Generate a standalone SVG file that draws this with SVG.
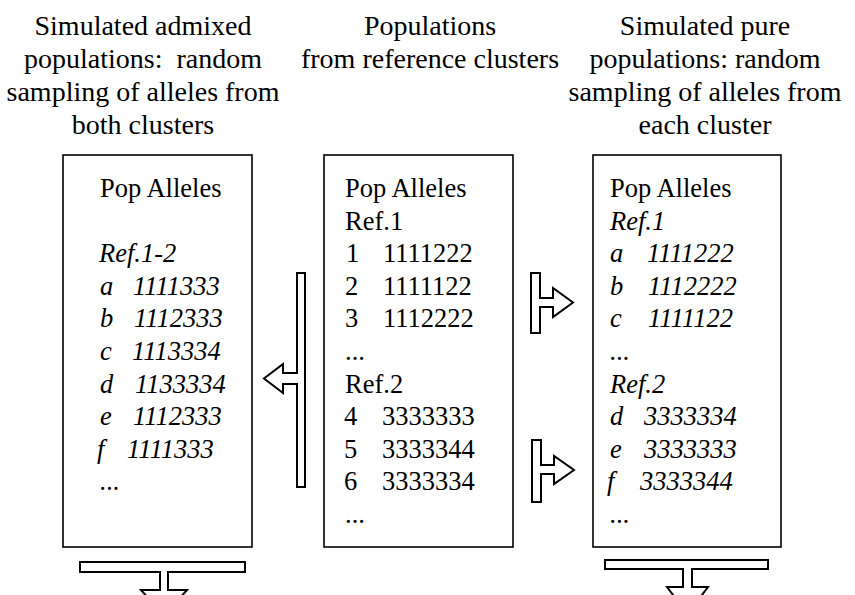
<svg xmlns="http://www.w3.org/2000/svg" width="855" height="595" viewBox="0 0 855 595">
<style>
.hd{font-family:"Liberation Serif","Times New Roman",serif;font-size:28px;fill:#000;text-anchor:middle}
.t{font-family:"Liberation Serif","Times New Roman",serif;font-size:26.5px;fill:#000}
.i{font-style:italic}
.box{fill:#fff;stroke:#000;stroke-width:1.6}
.arr{fill:#fff;stroke:#000;stroke-width:2;stroke-linejoin:miter}
</style>
<rect width="855" height="595" fill="#fff"/>
<g id="headers">
<text class="hd" x="143" y="35">Simulated admixed</text>
<text class="hd" x="143" y="68">populations:&#160; random</text>
<text class="hd" x="143" y="101">sampling of alleles from</text>
<text class="hd" x="143" y="134">both clusters</text>
<text class="hd" x="430" y="35">Populations</text>
<text class="hd" x="430" y="68">from reference clusters</text>
<text class="hd" x="705" y="35">Simulated pure</text>
<text class="hd" x="705" y="68">populations: random</text>
<text class="hd" x="705" y="101">sampling of alleles from</text>
<text class="hd" x="705" y="134">each cluster</text>
</g>
<g id="node-admixed">
<rect class="box" x="63" y="155" width="189" height="392"/>
<text class="t" x="100" y="197">Pop Alleles</text>
<g class="t i">
<text x="99" y="262.2">Ref.1-2</text>
<text x="100" y="294.8">a</text><text x="133" y="294.8">1111333</text>
<text x="100" y="327.4">b</text><text x="134" y="327.4">1112333</text>
<text x="100" y="360">c</text><text x="132" y="360">1113334</text>
<text x="100" y="392.6">d</text><text x="135" y="392.6">1133334</text>
<text x="100" y="425.2">e</text><text x="133" y="425.2">1112333</text>
<text x="97" y="457.8">f</text><text x="127" y="457.8">1111333</text>
<text x="100" y="490.4">...</text>
</g>
</g>
<g id="node-reference">
<rect class="box" x="324" y="155" width="189" height="392"/>
<g class="t">
<text x="345" y="197">Pop Alleles</text>
<text x="345" y="229.6">Ref.1</text>
<text x="346" y="262.2">1</text><text x="383" y="262.2">1111222</text>
<text x="345" y="294.8">2</text><text x="383" y="294.8">1111122</text>
<text x="345" y="327.4">3</text><text x="383" y="327.4">1112222</text>
<text x="345" y="360">...</text>
<text x="345" y="392.6">Ref.2</text>
<text x="344" y="425.2">4</text><text x="382" y="425.2">3333333</text>
<text x="344" y="457.8">5</text><text x="382" y="457.8">3333344</text>
<text x="344" y="490.4">6</text><text x="382" y="490.4">3333334</text>
<text x="345" y="523">...</text>
</g>
</g>
<g id="node-pure">
<rect class="box" x="593" y="155" width="188" height="392"/>
<text class="t" x="610" y="197">Pop Alleles</text>
<g class="t i">
<text x="610" y="229.6">Ref.1</text>
<text x="610" y="262.2">a</text><text x="647" y="262.2">1111222</text>
<text x="610" y="294.8">b</text><text x="648" y="294.8">1112222</text>
<text x="610" y="327.4">c</text><text x="648" y="327.4">1111122</text>
<text x="610" y="360">...</text>
<text x="610" y="392.6">Ref.2</text>
<text x="610" y="425.2">d</text><text x="644" y="425.2">3333334</text>
<text x="610" y="457.8">e</text><text x="644" y="457.8">3333333</text>
<text x="607" y="490.4">f</text><text x="640" y="490.4">3333344</text>
<text x="610" y="523">...</text>
</g>
</g>
<g id="connectors">
<path class="arr" d="M297,273 H305 V487 H297 V384 H283 V393 L264,378.5 L283,364 V373 H297 Z"/>
<path class="arr" d="M531,273 H540 V298 H553 V288 L573,302.5 L553,317 V307 H540 V333 H531 Z"/>
<path class="arr" d="M532,440 H541 V465 H554 V456 L574,470 L554,484 V474 H541 V502 H532 Z"/>
<path class="arr" d="M80,562 H245 V572 H168 V590 H187 L164,616 L141,590 H160 V572 H80 Z"/>
<path class="arr" d="M605,560 H768 V569 H692 V587 H708 L687.5,614 L667,587 H683 V569 H605 Z"/>
</g>
</svg>
